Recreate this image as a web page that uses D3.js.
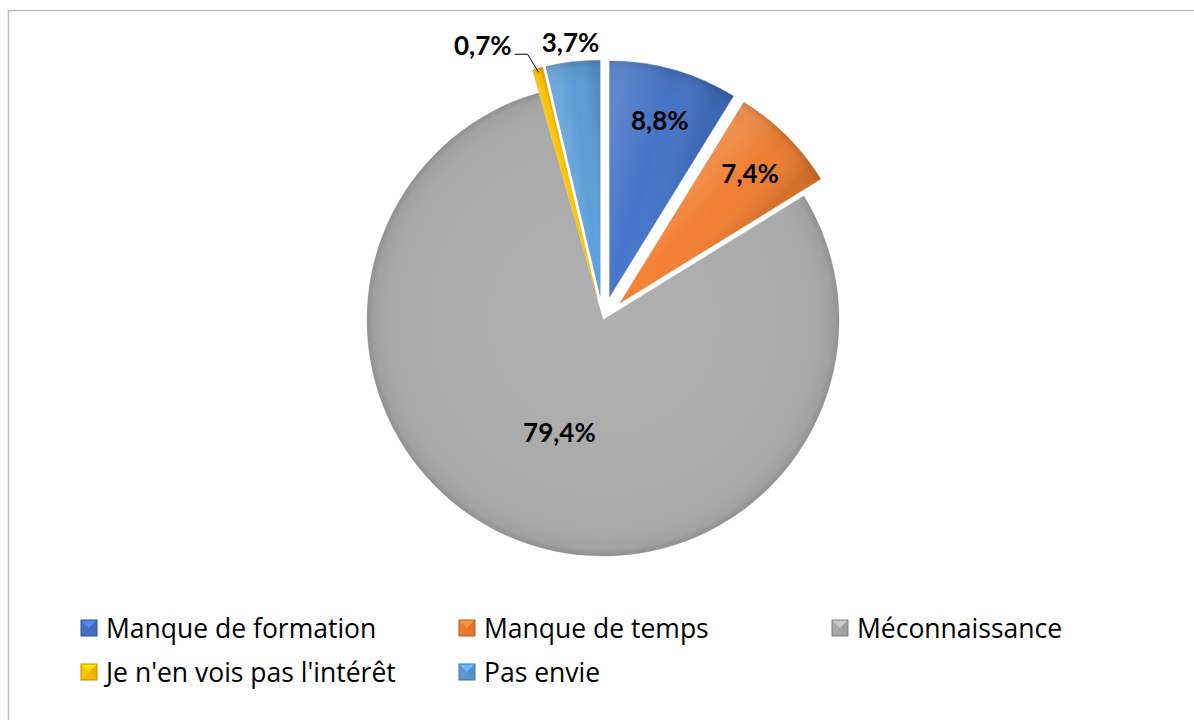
<!DOCTYPE html>
<html><head><meta charset="utf-8">
<script src="https://cdn.jsdelivr.net/npm/d3@7"></script>
<style>body{margin:0;background:#fff}svg{display:block}text{font-variant-ligatures:none}</style>
</head><body>
<svg id="c" width="1194" height="720"></svg>
<script>
const categories = ["Manque de formation","Manque de temps","Méconnaissance","Je n'en vois pas l'intérêt","Pas envie"];
const values = [8.8, 7.4, 79.4, 0.7, 3.7];
const valueLabels = ["8,8%","7,4%","79,4%","0,7%","3,7%"];
const colors = ["#4472C4","#ED7D31","#A9A9A9","#FFC000","#5B9BD5"];

const svg = d3.select("#c");
const W = 1194, H = 720;
const cx = 603, cy = 320, R = 236, EXPL = 24;
const LABEL_FONT = "Lato, 'Open Sans', sans-serif";
const LEGEND_FONT = "'Open Sans', Lato, sans-serif";

// frame
svg.append("path").attr("d", `M8.5,${H}V10.5H${W}`).attr("fill","none").attr("stroke","#BDBDBD").attr("stroke-width",1.5);

const defs = svg.append("defs");
const pie = d3.pie().sort(null).value(d => d)(values);
const arc = d3.arc().innerRadius(0).outerRadius(R);
const maxV = d3.max(values);
const total = d3.sum(values);

const g = svg.append("g").attr("transform", `translate(${cx},${cy})`);

pie.forEach((d, i) => {
  const mid = (d.startAngle + d.endAngle) / 2;
  const big = values[i] === maxV;
  const off = big ? 0 : EXPL;
  d.ox = off * Math.sin(mid); d.oy = -off * Math.cos(mid); d.mid = mid;
  const base = d3.color(colors[i]);
  const rg = defs.append("radialGradient").attr("id", "rg" + i)
    .attr("gradientUnits", "userSpaceOnUse").attr("cx", 0).attr("cy", 0).attr("r", R);
  rg.append("stop").attr("offset", "0%").attr("stop-color", base.brighter(0.12));
  rg.append("stop").attr("offset", "90%").attr("stop-color", base);
  rg.append("stop").attr("offset", "97%").attr("stop-color", base.darker(0.12));
  rg.append("stop").attr("offset", "100%").attr("stop-color", base.darker(0.45));
  const a1 = d.startAngle, a2 = d.endAngle;
  const lg = defs.append("linearGradient").attr("id", "lg" + i)
    .attr("gradientUnits", "userSpaceOnUse")
    .attr("x1", R * 0.7 * Math.sin(a1)).attr("y1", -R * 0.7 * Math.cos(a1))
    .attr("x2", R * 0.7 * Math.sin(a2)).attr("y2", -R * 0.7 * Math.cos(a2));
  lg.append("stop").attr("offset", "0%").attr("stop-color", "#fff").attr("stop-opacity", big ? 0 : 0.14);
  lg.append("stop").attr("offset", "50%").attr("stop-color", "#fff").attr("stop-opacity", 0);
  lg.append("stop").attr("offset", "100%").attr("stop-color", "#000").attr("stop-opacity", big ? 0 : 0.1);

  const sg = g.append("g").attr("transform", `translate(${d.ox},${d.oy})`);
  sg.append("path").attr("d", arc(d)).attr("fill", `url(#rg${i})`);
  sg.append("path").attr("d", arc(d)).attr("fill", `url(#lg${i})`);
  sg.append("path").attr("d", arc(d)).attr("fill", "none")
    .attr("stroke", base.darker(0.6)).attr("stroke-opacity", 0.3).attr("stroke-width", 1);
});

// labels
function label(x, y, txt, anchor) {
  g.append("text").attr("x", x).attr("y", y)
    .attr("text-anchor", anchor).attr("dominant-baseline", "central")
    .style("font-family", LABEL_FONT).style("font-weight", "bold").style("font-size", "26px")
    .attr("fill", "#000").text(txt);
}
pie.forEach((d, i) => {
  const s = Math.sin(d.mid), c = -Math.cos(d.mid);
  const frac = values[i] / total;
  if (values[i] === maxV) {
    label(0.51 * R * s, 0.51 * R * c, valueLabels[i], "middle");
  } else if (frac > 0.05) {
    label(d.ox + 0.78 * R * s, d.oy + 0.78 * R * c, valueLabels[i], "middle");
  } else if (frac > 0.02) {
    label(280 * s, 280 * c, valueLabels[i], "middle");
  } else {
    const sx = d.ox + (R - 4) * s, sy = d.oy + (R - 4) * c;
    const ex = sx - 11, ey = sy - 18;
    const hx = ex - 13;
    g.append("path").attr("d", `M${sx},${sy}L${ex},${ey}H${hx}`)
      .attr("fill", "none").attr("stroke", "#000").attr("stroke-width", 1);
    label(hx - 3, ey - 9, valueLabels[i], "end");
  }
});

// legend
const colX = [81, 459, 832];
const rowY = [628, 672];
const M = 16;
categories.forEach((name, i) => {
  const x = colX[i % 3], y = rowY[Math.floor(i / 3)];
  const base = d3.color(colors[i]);
  const lgG = svg.append("g").attr("transform", `translate(${x},${y - M / 2})`);
  lgG.append("rect").attr("width", M).attr("height", M).attr("fill", base);
  lgG.append("path").attr("d", `M0,0H${M}L${M/2},${M/2}Z`).attr("fill", base.brighter(0.5));
  lgG.append("path").attr("d", `M${M},0V${M}L${M/2},${M/2}Z`).attr("fill", base.darker(0.2));
  lgG.append("path").attr("d", `M0,${M}H${M}L${M/2},${M/2}Z`).attr("fill", base.darker(0.1));
  lgG.append("rect").attr("width", M).attr("height", M).attr("fill", "none")
    .attr("stroke", base.darker(0.8)).attr("stroke-width", 1);
  svg.append("text").attr("x", x + 25).attr("y", y)
    .attr("dominant-baseline", "central")
    .style("font-family", LEGEND_FONT).style("font-size", "26.5px").attr("fill", "#000")
    .text(name);
});
</script>
</body></html>
